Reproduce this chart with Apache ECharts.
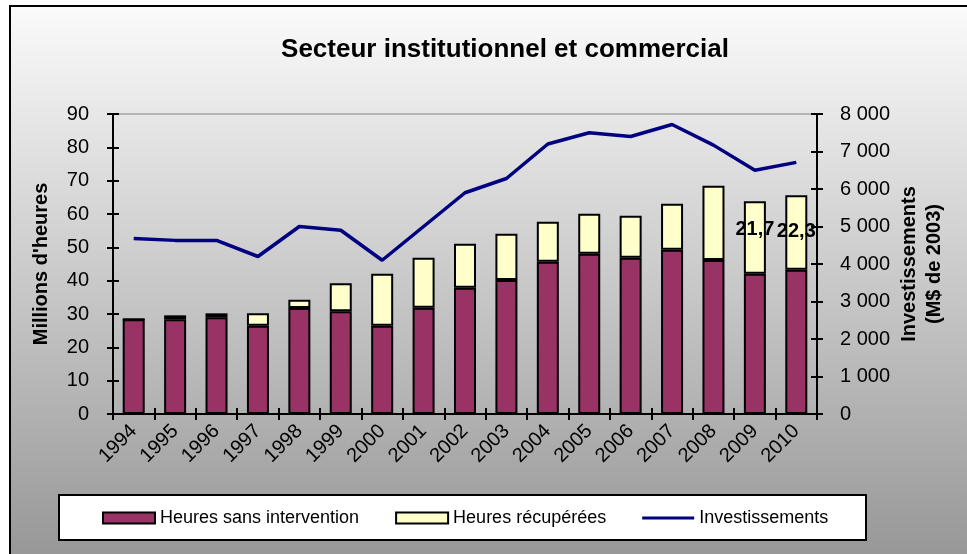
<!DOCTYPE html>
<html>
<head>
<meta charset="utf-8">
<script src="https://cdn.jsdelivr.net/npm/echarts@6/dist/echarts.min.js"></script>
<style>
  html, body { margin: 0; padding: 0; background: #fff; }
  #main { width: 967px; height: 554px; }
</style>
</head>
<body>
<div id="main"></div>
<script>
var annees = ['1994', '1995', '1996', '1997', '1998', '1999', '2000', '2001', '2002',
              '2003', '2004', '2005', '2006', '2007', '2008', '2009', '2010'];
// millions d'heures
var heuresSansIntervention = [28.4, 28.4, 29.0, 26.5, 31.8, 30.8, 26.5, 31.9, 37.9,
                              40.2, 45.7, 48.1, 46.9, 49.3, 46.2, 42.1, 43.3];
var heuresRecuperees = [0, 1.2, 1.2, 3.7, 2.5, 8.4, 15.6, 15.0, 13.2,
                        13.9, 12.0, 12.0, 12.6, 13.8, 22.3, 21.7, 22.3];
// M$ de 2003
var investissements = [4680, 4630, 4630, 4200, 5000, 4900, 4100, 5000, 5900,
                       6280, 7200, 7500, 7400, 7720, 7170, 6500, 6710];
// étiquettes affichées (index -> décalage vertical)
var etiquettes = { 15: -8, 16: -1 };

var police = 'Liberation Sans, Arial, sans-serif';
var myChart = echarts.init(document.getElementById('main'));

var recupData = heuresRecuperees.map(function (v, i) {
    if (etiquettes[i] === undefined) return v;
    return {
        value: v,
        label: {
            show: true,
            position: 'inside',
            offset: [0, etiquettes[i]],
            formatter: function (p) { return String(p.value).replace('.', ','); },
            fontFamily: police,
            fontSize: 20,
            fontWeight: 'bold',
            color: '#000'
        }
    };
});

var axeBase = {
    axisLine: { show: true, lineStyle: { color: '#000', width: 2 } },
    splitLine: { show: false }
};
var trait = { color: '#000', width: 2 };

myChart.setOption({
    backgroundColor: '#fff',
    textStyle: { fontFamily: police },
    graphic: [{
        type: 'rect',
        z: -10,
        shape: { x: 10, y: 6, width: 1000, height: 600 },
        style: {
            fill: new echarts.graphic.LinearGradient(0, 0, 0, 1, [
                { offset: 0, color: '#fbfbfb' },
                { offset: 1, color: '#8e8e8e' }
            ]),
            stroke: '#000',
            lineWidth: 2
        }
    }, {
        type: 'rect',
        z: -5,
        shape: { x: 59, y: 495, width: 807, height: 45 },
        style: { fill: '#fff', stroke: '#000', lineWidth: 2 }
    }],
    title: {
        text: 'Secteur institutionnel et commercial',
        left: 500,
        textAlign: 'center',
        top: 32,
        textStyle: { fontFamily: police, fontSize: 26, fontWeight: 'bold', color: '#000' }
    },
    legend: {
        left: 102,
        top: 509,
        padding: 0,
        itemWidth: 52,
        itemHeight: 11,
        itemGap: 36,
        textStyle: { fontFamily: police, fontSize: 18, color: '#000' },
        data: [
            { name: 'Heures sans intervention', icon: 'rect' },
            { name: 'Heures récupérées', icon: 'rect' },
            { name: 'Investissements',
              icon: 'path://M0,0L0.01,0L0,0.01Z M0,4L52,4L52,7L0,7Z M52,11L51.99,11L52,10.99Z' }
        ]
    },
    grid: {
        left: 113, right: 150, top: 114, bottom: 140,
        show: true, borderColor: '#808080', borderWidth: 1,
        backgroundColor: 'transparent'
    },
    xAxis: [{
        type: 'category',
        data: annees,
        axisLine: { lineStyle: trait },
        axisTick: { show: true, length: 6, lineStyle: trait },
        axisLabel: { rotate: 45, margin: 14, fontFamily: police, fontSize: 20, color: '#000' }
    }, {
        type: 'category',
        data: annees,
        position: 'bottom',
        axisLine: { show: false },
        axisTick: { show: true, inside: true, length: 6, lineStyle: trait },
        axisLabel: { show: false }
    }],
    yAxis: [Object.assign({}, axeBase, {
        type: 'value',
        min: 0, max: 90, interval: 10,
        position: 'left',
        name: "Millions d'heures",
        nameLocation: 'middle',
        nameGap: 62,
        nameRotate: 90,
        nameMoveOverlap: false,
        nameTextStyle: { fontFamily: police, fontSize: 20, fontWeight: 'bold', color: '#000' },
        axisTick: { show: true, length: 6, lineStyle: trait },
        axisLabel: { margin: 24, fontFamily: police, fontSize: 20, color: '#000' }
    }), Object.assign({}, axeBase, {
        type: 'value',
        min: 0, max: 8000, interval: 1000,
        position: 'right',
        name: 'Investissements\n(M$ de 2003)',
        nameLocation: 'middle',
        nameGap: 80,
        nameRotate: 90,
        nameMoveOverlap: false,
        nameTextStyle: { fontFamily: police, fontSize: 20, fontWeight: 'bold', color: '#000', lineHeight: 25 },
        axisTick: { show: true, length: 6, lineStyle: trait },
        axisLabel: {
            margin: 23, fontFamily: police, fontSize: 20, color: '#000',
            formatter: function (v) { return v >= 1000 ? Math.floor(v / 1000) + ' 000' : String(v); }
        }
    }), Object.assign({}, axeBase, {
        type: 'value', min: 0, max: 90, interval: 10, position: 'left',
        axisTick: { show: true, inside: true, length: 6, lineStyle: trait },
        axisLabel: { show: false }
    }), Object.assign({}, axeBase, {
        type: 'value', min: 0, max: 8000, interval: 1000, position: 'right',
        axisTick: { show: true, inside: true, length: 6, lineStyle: trait },
        axisLabel: { show: false }
    })],
    series: [{
        name: 'Heures sans intervention',
        type: 'bar',
        stack: 'heures',
        barWidth: 22,
        itemStyle: { color: '#993366', borderColor: '#000', borderWidth: 2 },
        data: heuresSansIntervention
    }, {
        name: 'Heures récupérées',
        type: 'bar',
        stack: 'heures',
        barWidth: 22,
        itemStyle: { color: '#ffffcc', borderColor: '#000', borderWidth: 2 },
        data: recupData
    }, {
        name: 'Investissements',
        type: 'line',
        yAxisIndex: 1,
        symbol: 'none',
        lineStyle: { color: '#000080', width: 3.5 },
        itemStyle: { color: '#000080' },
        data: investissements
    }]
});
</script>
</body>
</html>
